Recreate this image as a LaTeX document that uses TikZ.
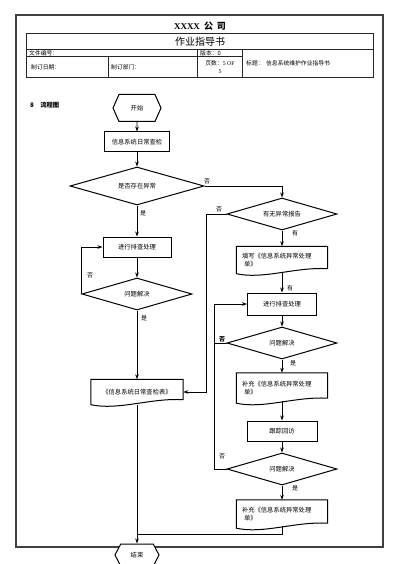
\documentclass[tikz,border=0pt]{standalone}
\usepackage{fontspec}
\setmainfont{Noto Sans CJK SC}
\newfontfamily\latinserif{Liberation Serif}
\usetikzlibrary{arrows.meta,shapes.symbols,shapes.geometric,calc}
\newcommand\docout[1]{\draw[line width=1pt] (#1.south west) -- (#1.north west) -- (#1.north east) -- ([yshift=5pt]#1.south east) .. controls ($(#1.south west)!0.65!(#1.south east)+(0,-7)$) and ($(#1.south west)!0.3!(#1.south east)+(0,6)$) .. (#1.south west) -- cycle;}
\begin{document}
\begin{tikzpicture}[x=1pt,y=-1pt,
  fs/.style={font=\fontsize{6.3}{8}\selectfont},
  proc/.style={draw,line width=1pt,fs,inner sep=1pt},
  dec/.style={diamond,draw,line width=1pt,fs,inner sep=0pt,aspect=3.4},
  term/.style={signal,signal to=east and west,draw,line width=1pt,fill=white,fs,inner sep=1pt},
  docu/.style={draw=none,fs,inner sep=1pt,align=left},
  arr/.style={-{Stealth[length=5pt,width=3.6pt]},line width=0.8pt},
  ln/.style={line width=0.8pt},
  lbl/.style={font=\fontsize{6}{7}\selectfont,inner sep=0pt},
  tbl/.style={line width=1pt,draw=black!85},
  ttxt/.style={font=\fontsize{5.8}{7}\selectfont,inner sep=0pt}]
\useasboundingbox (0,0) rectangle (400,564);
% page frame
\draw[line width=1.4pt,draw=black!75] (16,15) rectangle (383,547);
% header
\node (title) at (200,26) {\latinserif\bfseries\fontsize{9}{10}\selectfont XXXX\hspace{4pt}\normalfont\bfseries\fontsize{9}{10}\selectfont 公\hspace{4pt}司};
\draw[tbl] (26,34) rectangle (373,78);
\draw[tbl] (26,50) -- (373,50);
\draw[tbl] (26,57) -- (242,57);
\draw[tbl] (197,50) -- (197,78);
\draw[tbl] (242,50) -- (242,78);
\draw[tbl] (108,57) -- (108,78);
\node (hbook) at (200,42) {\fontsize{10}{11}\selectfont 作业指导书};
\node[ttxt,anchor=west] (hno) at (29,53.5) {文件编号：};
\node[ttxt,anchor=west] (hver) at (200,53.5) {版本：0};
\node[ttxt,anchor=west] (hdate) at (31,67.5) {制订日期：};
\node[ttxt,anchor=west] (hdept) at (111,67.5) {制订部门：};
\node[ttxt,align=center] (hpage) at (220,67.5) {页数：{\latinserif 5 OF}\\[1pt]{\latinserif 5}};
\node[ttxt,anchor=west] (htitle) at (246,63.5) {标题：\ \ 信息系统维护作业指导书};
\node[anchor=west,inner sep=0pt] (sect) at (30,105) {\fontsize{6.3}{8}\selectfont\bfseries 8\quad 流程图};
% left column
\node[term,minimum width=48pt,minimum height=27pt,signal pointer angle=132] (start) at (137,108) {开始};
\node[proc,minimum width=65pt,minimum height=20pt] (check) at (137,142) {信息系统日常查检};
\node[dec,minimum width=134pt,minimum height=38pt] (d1) at (137,186) {是否存在异常};
\node[proc,minimum width=68pt,minimum height=20pt] (proc1) at (137,247) {进行排查处理};
\node[dec,minimum width=110pt,minimum height=32pt] (d2) at (137,294) {问题解决};
\node[docu,minimum width=92pt,minimum height=25pt] (doc1) at (137,392) {《信息系统日常查检表》};
\docout{doc1}
% right column
\node[dec,minimum width=110pt,minimum height=32pt] (d3) at (282,214) {有无异常报告};
\node[docu,minimum width=91pt,minimum height=27pt,text width=80pt] (doc2) at (282,260) {填写《信息系统异常处理\\\hspace*{2pt}单》};
\docout{doc2}
\node[proc,minimum width=69pt,minimum height=22pt] (proc2) at (282,304) {进行排查处理};
\node[dec,minimum width=110pt,minimum height=32pt] (d4) at (282,343) {问题解决};
\node[docu,minimum width=91pt,minimum height=30pt,text width=80pt] (doc3) at (282,388) {补充《信息系统异常处理\\\hspace*{2pt}单》};
\docout{doc3}
\node[proc,minimum width=70pt,minimum height=20pt] (proc3) at (282,431) {跟踪回访};
\node[dec,minimum width=110pt,minimum height=32pt] (d5) at (282,469) {问题解决};
\node[docu,minimum width=91pt,minimum height=28pt,text width=80pt] (doc4) at (282,514) {补充《信息系统异常处理\\\hspace*{2pt}单》};
\docout{doc4}
\node[term,minimum width=44pt,minimum height=22pt,signal pointer angle=125] (end) at (137,555) {结束};
\coordinate (j1) at (206,0);
\coordinate (j2) at (214,0);
\coordinate (j3) at (137,534);
% connectors
\draw[arr] (start) -- (check);
\draw[arr] (check) -- (d1);
\draw[arr] (d1) -- (proc1);
\draw[arr] (proc1) -- (d2);
\draw[arr] (d2.west) |- (proc1.west);
\draw[arr] (d2) -- (doc1);
\draw[arr] (doc1.south) -- (end.north);
\draw[arr] (d1.east) -| (d3.north);
\draw[arr] (d3.west) -- (d3.west -| j1) -- (doc1.east -| j1) -- (doc1.east);
\draw[arr] (d3) -- (doc2);
\draw[arr] ([yshift=2pt]doc2.south) -- (proc2);
\draw[arr] (proc2) -- (d4);
\draw[arr] (d4) -- (doc3);
\draw[arr] ([yshift=2pt]doc3.south) -- (proc3);
\draw[arr] (proc3) -- (d5);
\draw[arr] (d5) -- (doc4);
\draw[ln] (d4.west) -- (d4.west -| j2);
\draw[arr] (d5.west) -- (d5.west -| j2) -- (proc2.west -| j2) -- (proc2.west);
\draw[ln] ([yshift=2pt]doc4.south) -- (doc4.south |- j3) -- (j3);
% labels
\node[lbl] (l1) at (207,181) {否};
\node[lbl] (l2) at (143,213) {是};
\node[lbl] (l3) at (90,275) {否};
\node[lbl] (l4) at (144,318) {是};
\node[lbl] (l5) at (219,209) {否};
\node[lbl] (l6) at (295,233) {有};
\node[lbl] (l7) at (290,288) {有};
\node[lbl,font=\fontsize{6}{7}\selectfont\bfseries] (l8) at (222,339) {否};
\node[lbl] (l9) at (293,363) {是};
\node[lbl] (l10) at (222,456) {否};
\node[lbl] (l11) at (295,488) {是};
\end{tikzpicture}
\end{document}
